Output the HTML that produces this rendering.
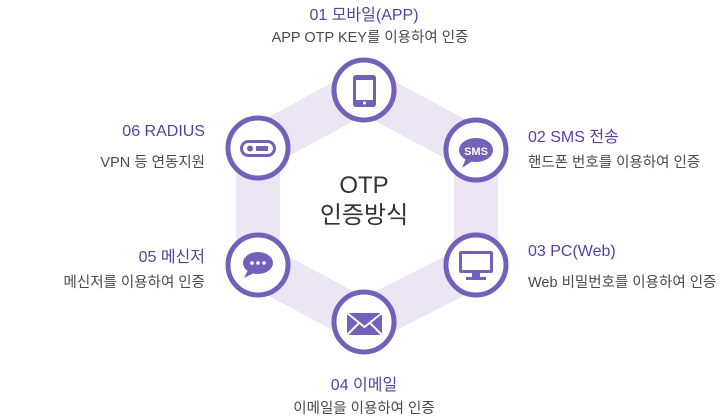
<!DOCTYPE html>
<html><head><meta charset="utf-8"><style>
body{margin:0;width:728px;height:414px;background:#fff;overflow:hidden;font-family:"Liberation Sans","Noto Sans CJK KR",sans-serif}
.t{position:absolute;font-size:16px;color:#5a3f9e;white-space:nowrap}
.s{position:absolute;font-size:14.5px;color:#4a4a4a;white-space:nowrap}
.c{transform:translateX(-50%)}
.r{text-align:right}
</style></head><body>
<svg width="728" height="414" style="position:absolute;left:0;top:0">
<polygon points="364,90 476,150 476,265 364,322 258,265 258,148" fill="none" stroke="#ebe5f4" stroke-width="44" stroke-linejoin="miter"/>
<g fill="#fff" stroke="#7460b8" stroke-width="5">
<circle cx="364" cy="90" r="30"/><circle cx="476" cy="150" r="30"/><circle cx="476" cy="265" r="30"/>
<circle cx="364" cy="322" r="30"/><circle cx="258" cy="265" r="30"/><circle cx="258" cy="148" r="30"/>
</g>
<g fill="#7460b8">
<rect x="353" y="75" width="23" height="32" rx="3"/><rect x="356" y="80" width="17" height="20" fill="#fff"/><circle cx="364.5" cy="103" r="1.5" fill="#fff"/>
<ellipse cx="476" cy="150" rx="17" ry="12"/><polygon points="466,158 462,168 474,160"/>
<text x="476" y="155" font-size="11" font-weight="bold" fill="#fff" text-anchor="middle" font-family="Liberation Sans">SMS</text>
<rect x="459" y="251" width="34" height="22" rx="2"/><rect x="462" y="254" width="28" height="16" fill="#fff"/><rect x="472" y="273" width="8" height="5"/><rect x="466" y="277" width="20" height="3"/>
<rect x="347" y="313" width="35" height="22"/>
<polyline points="347,313 364.5,327 382,313" fill="none" stroke="#fff" stroke-width="2"/>
<line x1="347" y1="335" x2="359" y2="323" stroke="#fff" stroke-width="2"/><line x1="382" y1="335" x2="370" y2="323" stroke="#fff" stroke-width="2"/>
<ellipse cx="258" cy="263" rx="15" ry="11"/><polygon points="248,270 244,278 256,272"/>
<g fill="#fff"><circle cx="252" cy="263" r="1.8"/><circle cx="258" cy="263" r="1.8"/><circle cx="264" cy="263" r="1.8"/></g>
<rect x="240" y="140" width="36" height="17" rx="8.5"/><rect x="243" y="143" width="30" height="11" rx="5.5" fill="#fff"/><circle cx="250" cy="148.5" r="3"/><rect x="256" y="146" width="12" height="5"/>
</g>
<text x="364" y="193" font-size="24" fill="#333" text-anchor="middle">OTP</text>
<text x="364" y="223" font-size="24" fill="#333" text-anchor="middle" font-family="Liberation Sans,Noto Sans CJK KR,sans-serif">인증방식</text>
</svg>
<div class="t c" style="left:364px;top:1px">01 모바일(APP)</div>
<div class="s c" style="left:370px;top:26px">APP OTP KEY를 이용하여 인증</div>
<div class="t" style="left:528px;top:123px">02 SMS 전송</div>
<div class="s" style="left:528px;top:151px">핸드폰 번호를 이용하여 인증</div>
<div class="t" style="left:528px;top:243px">03 PC(Web)</div>
<div class="s" style="left:528px;top:271px">Web 비밀번호를 이용하여 인증</div>
<div class="t c" style="left:364px;top:371px">04 이메일</div>
<div class="s c" style="left:364px;top:397px">이메일을 이용하여 인증</div>
<div class="t r" style="right:523px;top:243px">05 메신저</div>
<div class="s r" style="right:523px;top:271px">메신저를 이용하여 인증</div>
<div class="t r" style="right:523px;top:123px">06 RADIUS</div>
<div class="s r" style="right:523px;top:151px">VPN 등 연동지원</div>
</body></html>
